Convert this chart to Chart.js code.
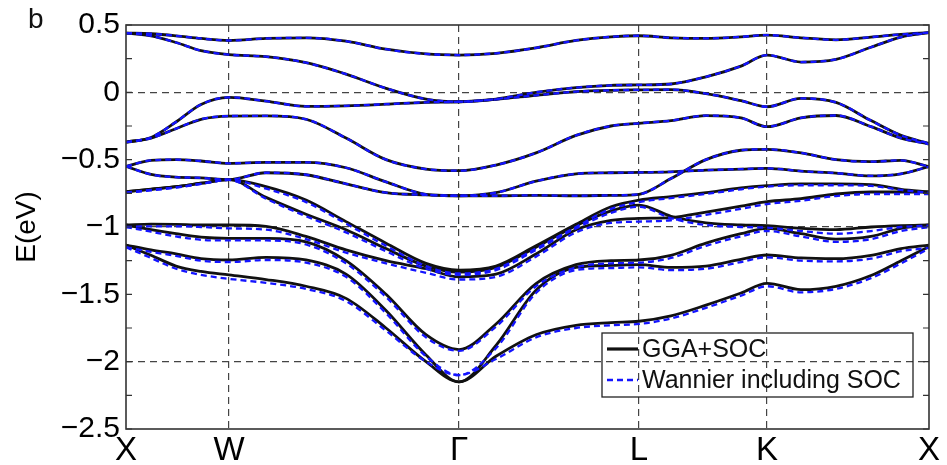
<!DOCTYPE html>
<html>
<head>
<meta charset="utf-8">
<script src="https://cdn.jsdelivr.net/npm/chart.js@4.4.1/dist/chart.umd.min.js"></script>
<style>
  html, body { margin: 0; padding: 0; background: #fff; }
  #wrap { width: 947px; height: 465px; }
</style>
</head>
<body>
<div id="wrap"><canvas id="bands" width="947" height="465"></canvas></div>
<script>
// k-path positions (arbitrary path length units) and high-symmetry points
const kPoints = [0, 25, 50, 75, 103, 140, 180, 220, 260, 300, 333, 370, 410, 450, 485, 513, 545, 580, 615, 641, 675, 710, 745, 775, 803];
const kTicks = [0, 103, 333, 513, 641, 803];
const kLabels = ['X', 'W', 'Γ', 'L', 'K', 'X'];
const yGridLevels = [0, -1, -2];

// GGA+SOC bands (eV), one value per k point
const gga1 = [0.44, 0.435, 0.42, 0.40, 0.385, 0.40, 0.405, 0.38, 0.32, 0.285, 0.277, 0.29, 0.33, 0.385, 0.412, 0.42, 0.405, 0.40, 0.412, 0.425, 0.405, 0.39, 0.41, 0.43, 0.443];
const gga2 = [0.44, 0.42, 0.37, 0.31, 0.28, 0.265, 0.22, 0.135, 0.03, -0.05, -0.07, -0.05, 0.0, 0.035, 0.052, 0.055, 0.062, 0.115, 0.195, 0.277, 0.225, 0.245, 0.335, 0.41, 0.443];
const gga3 = [-0.37, -0.335, -0.22, -0.09, -0.037, -0.065, -0.105, -0.10, -0.088, -0.074, -0.07, -0.052, -0.022, 0.005, 0.015, 0.018, 0.02, -0.01, -0.062, -0.107, -0.045, -0.075, -0.21, -0.32, -0.38];
const gga4 = [-0.37, -0.34, -0.27, -0.20, -0.176, -0.175, -0.20, -0.34, -0.50, -0.57, -0.582, -0.54, -0.45, -0.32, -0.25, -0.23, -0.21, -0.173, -0.19, -0.255, -0.19, -0.172, -0.255, -0.34, -0.384];
const gga5 = [-0.55, -0.505, -0.50, -0.51, -0.527, -0.52, -0.52, -0.56, -0.665, -0.757, -0.768, -0.745, -0.66, -0.605, -0.597, -0.595, -0.59, -0.578, -0.57, -0.565, -0.585, -0.60, -0.62, -0.605, -0.552];
const gga6 = [-0.55, -0.61, -0.63, -0.635, -0.648, -0.597, -0.612, -0.68, -0.745, -0.762, -0.768, -0.768, -0.765, -0.768, -0.765, -0.757, -0.64, -0.50, -0.43, -0.423, -0.45, -0.50, -0.515, -0.505, -0.552];
const gga7 = [-0.738, -0.718, -0.70, -0.675, -0.648, -0.70, -0.80, -0.96, -1.12, -1.27, -1.32, -1.29, -1.14, -0.98, -0.85, -0.80, -0.775, -0.745, -0.71, -0.693, -0.68, -0.68, -0.685, -0.72, -0.74];
const gga8 = [-0.738, -0.72, -0.70, -0.675, -0.648, -0.78, -0.905, -1.02, -1.16, -1.29, -1.335, -1.30, -1.15, -0.99, -0.88, -0.837, -0.92, -0.97, -0.985, -0.99, -1.01, -1.02, -1.0, -0.99, -0.985];
const gga9 = [-0.985, -0.978, -0.98, -0.985, -0.985, -0.995, -1.07, -1.17, -1.25, -1.31, -1.37, -1.35, -1.20, -1.02, -0.95, -0.936, -0.93, -0.89, -0.845, -0.812, -0.79, -0.755, -0.74, -0.74, -0.74];
const gga10 = [-0.985, -1.02, -1.05, -1.075, -1.084, -1.085, -1.11, -1.25, -1.50, -1.80, -1.91, -1.72, -1.42, -1.28, -1.25, -1.245, -1.21, -1.12, -1.05, -1.01, -1.05, -1.09, -1.07, -1.01, -0.985];
const gga11 = [-1.134, -1.17, -1.20, -1.235, -1.245, -1.225, -1.245, -1.35, -1.62, -1.95, -2.15, -1.88, -1.47, -1.30, -1.285, -1.28, -1.30, -1.29, -1.24, -1.208, -1.23, -1.235, -1.21, -1.16, -1.134];
const gga12 = [-1.134, -1.21, -1.29, -1.33, -1.356, -1.39, -1.44, -1.53, -1.75, -2.00, -2.15, -1.96, -1.80, -1.73, -1.71, -1.70, -1.66, -1.58, -1.49, -1.418, -1.465, -1.44, -1.36, -1.25, -1.146];

// Wannier bands: the upper six coincide with GGA in the picture, the lower six sit slightly below
const wan7 = [-0.745, -0.725, -0.705, -0.68, -0.65, -0.715, -0.815, -0.975, -1.14, -1.29, -1.345, -1.31, -1.16, -1.0, -0.865, -0.815, -0.785, -0.755, -0.72, -0.70, -0.69, -0.69, -0.695, -0.725, -0.745];
const wan8 = [-0.745, -0.728, -0.708, -0.68, -0.65, -0.79, -0.92, -1.04, -1.18, -1.31, -1.355, -1.32, -1.17, -1.01, -0.895, -0.85, -0.935, -0.985, -1.0, -1.005, -1.03, -1.05, -1.03, -1.0, -0.99];
const wan9 = [-1.0, -0.995, -0.995, -1.0, -1.01, -1.02, -1.09, -1.19, -1.27, -1.34, -1.39, -1.37, -1.22, -1.04, -0.97, -0.96, -0.95, -0.91, -0.865, -0.83, -0.805, -0.77, -0.755, -0.755, -0.755];
const wan10 = [-1.0, -1.035, -1.07, -1.095, -1.10, -1.10, -1.13, -1.27, -1.52, -1.82, -1.92, -1.74, -1.44, -1.30, -1.27, -1.265, -1.23, -1.14, -1.07, -1.03, -1.07, -1.11, -1.09, -1.03, -1.0];
const wan11 = [-1.15, -1.185, -1.215, -1.25, -1.26, -1.245, -1.265, -1.37, -1.64, -1.96, -2.10, -1.90, -1.49, -1.32, -1.305, -1.30, -1.32, -1.31, -1.26, -1.225, -1.25, -1.255, -1.235, -1.18, -1.155];
const wan12 = [-1.15, -1.23, -1.31, -1.355, -1.385, -1.415, -1.46, -1.55, -1.77, -2.0, -2.10, -1.98, -1.82, -1.75, -1.73, -1.72, -1.68, -1.60, -1.51, -1.44, -1.485, -1.46, -1.38, -1.27, -1.16];

const ggaBands = [gga1, gga2, gga3, gga4, gga5, gga6, gga7, gga8, gga9, gga10, gga11, gga12];
const wannierBands = [gga1, gga2, gga3, gga4, gga5, gga6, wan7, wan8, wan9, wan10, wan11, wan12];

const FONT = '"Liberation Sans", Arial, Helvetica, sans-serif';
Chart.defaults.font.family = FONT;
Chart.defaults.color = '#000';

function toPoints(band) {
  return band.map((e, i) => ({ x: kPoints[i], y: e }));
}

const datasets = [];
ggaBands.forEach(band => {
  datasets.push({
    label: 'GGA+SOC',
    data: toPoints(band),
    borderColor: '#111',
    borderWidth: 2.8,
    pointRadius: 0,
    cubicInterpolationMode: 'monotone',
    order: 1
  });
});
wannierBands.forEach(band => {
  datasets.push({
    label: 'Wannier including SOC',
    data: toPoints(band),
    borderColor: '#1414ff',
    borderWidth: 2.3,
    borderDash: [6, 4],
    pointRadius: 0,
    cubicInterpolationMode: 'monotone',
    order: 0
  });
});

function isGridLevel(v) {
  return yGridLevels.some(g => Math.abs(g - v) < 1e-6);
}

function energyLabel(v) {
  if (Math.abs(v * 2 - Math.round(v * 2)) > 1e-6) {
    return '';
  }
  if (Math.abs(v) < 1e-9) {
    return '0';
  }
  return (v < 0 ? '\u2212' : '') + String(Math.abs(Math.round(v * 10) / 10));
}

const decorations = {
  id: 'decorations',
  afterDraw(chart) {
    const { ctx, chartArea } = chart;
    const { left, right, top, bottom } = chartArea;
    const yScale = chart.scales.y;

    ctx.save();
    // frame
    ctx.strokeStyle = '#333';
    ctx.lineWidth = 1.6;
    ctx.strokeRect(left, top, right - left, bottom - top);

    // inward ticks on both sides
    ctx.lineWidth = 1.2;
    yScale.ticks.forEach(t => {
      const py = yScale.getPixelForValue(t.value);
      ctx.beginPath();
      ctx.moveTo(left, py);
      ctx.lineTo(left + 6, py);
      ctx.moveTo(right, py);
      ctx.lineTo(right - 6, py);
      ctx.stroke();
    });

    // legend box (unfilled, grid shows through)
    const lx = 602, ly = 333, lw = 311, lh = 64;
    ctx.strokeStyle = '#222';
    ctx.lineWidth = 1.3;
    ctx.strokeRect(lx, ly, lw, lh);

    ctx.lineWidth = 3.2;
    ctx.strokeStyle = '#111';
    ctx.beginPath();
    ctx.moveTo(lx + 5, ly + 16);
    ctx.lineTo(lx + 36, ly + 16);
    ctx.stroke();

    ctx.lineWidth = 2.4;
    ctx.strokeStyle = '#1414ff';
    ctx.setLineDash([6, 4]);
    ctx.beginPath();
    ctx.moveTo(lx + 5, ly + 47);
    ctx.lineTo(lx + 36, ly + 47);
    ctx.stroke();
    ctx.setLineDash([]);

    ctx.fillStyle = '#111';
    ctx.font = '25px ' + FONT;
    ctx.textBaseline = 'middle';
    ctx.textAlign = 'left';
    ctx.fillText('GGA+SOC', lx + 40, ly + 17);
    ctx.fillText('Wannier including SOC', lx + 40, ly + 48);

    // panel letter
    ctx.font = '28px ' + FONT;
    ctx.textBaseline = 'alphabetic';
    ctx.fillText('b', 28, 28);
    ctx.restore();
  }
};

new Chart(document.getElementById('bands'), {
  type: 'scatter',
  data: { datasets },
  options: {
    responsive: false,
    animation: false,
    devicePixelRatio: 1,
    showLine: true,
    layout: { padding: { left: 0, right: 18, top: 25, bottom: 0 } },
    plugins: {
      legend: { display: false },
      tooltip: { enabled: false }
    },
    scales: {
      x: {
        type: 'linear',
        min: 0,
        max: 803,
        afterBuildTicks: s => { s.ticks = kTicks.map(v => ({ value: v })); },
        afterFit: s => { s.height = 36; },
        border: { display: false, dash: [7, 5] },
        grid: {
          drawTicks: false,
          lineWidth: 1.2,
          color: c => (c.index > 0 && c.index < kTicks.length - 1) ? '#444' : 'rgba(0,0,0,0)'
        },
        ticks: {
          autoSkip: false,
          maxRotation: 0,
          padding: 2,
          color: '#000',
          font: { size: 33 },
          callback: (v, i) => kLabels[i]
        }
      },
      y: {
        min: -2.5,
        max: 0.5,
        afterFit: s => { s.width = 126; },
        border: { display: false, dash: [7, 5] },
        grid: {
          drawTicks: false,
          lineWidth: 1.2,
          color: c => isGridLevel(c.tick.value) ? '#444' : 'rgba(0,0,0,0)'
        },
        ticks: {
          stepSize: 0.25,
          autoSkip: false,
          padding: 6,
          color: '#000',
          font: { size: 30 },
          callback: v => energyLabel(v)
        },
        title: {
          display: true,
          text: 'E(eV)',
          color: '#000',
          font: { size: 28 },
          padding: { top: 10, bottom: 0 }
        }
      }
    }
  },
  plugins: [decorations]
});
</script>
</body>
</html>
